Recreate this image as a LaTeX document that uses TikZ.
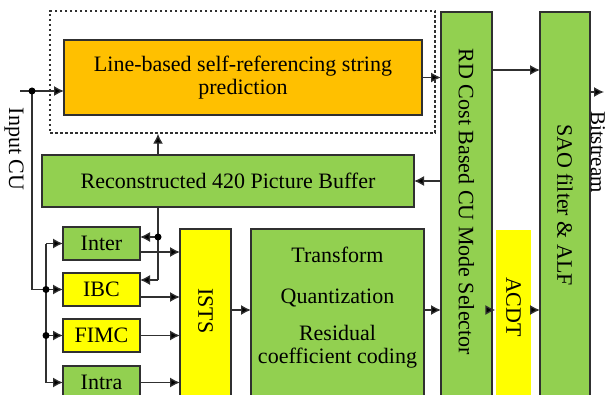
\documentclass[tikz,border=0pt]{standalone}
\usepackage{fontspec}
\setmainfont{Liberation Serif}
\usetikzlibrary{calc, arrows.meta}
\definecolor{blockGreen}{RGB}{146,208,80}
\definecolor{blockOrange}{RGB}{255,192,0}
\definecolor{blockYellow}{RGB}{255,255,0}
\definecolor{lineGrey}{RGB}{48,48,48}

\begin{document}
\begin{tikzpicture}[
  x=1pt, y=-1pt,
  font=\fontsize{22}{23}\selectfont,
  line width=1.3pt,
  blockbox/.style 2 args={draw=lineGrey, inner sep=0pt, outer sep=0pt,
    minimum width=#1pt, minimum height=#2pt},
  vlabel/.style={rotate=-90, inner sep=0pt},
  link/.style={-{Latex[length=10pt,width=10pt,fill=black]}, draw=lineGrey},
  wire/.style={draw=lineGrey},
  joint/.style={circle, fill=black, inner sep=0pt, minimum size=7pt},
]
\useasboundingbox (0,0) rectangle (609,395);
\clip (0,0) rectangle (609,395);

% --- String prediction and its dotted group ----------------------------
\node[blockbox={358}{75}, fill=blockOrange, align=center] (lsrp) at (243,77.5)
  {Line-based self-referencing string\\prediction};
\node[draw=lineGrey, line width=1.5pt, dash pattern=on 2.5pt off 2.5pt, inner sep=0pt,
  minimum width=385pt, minimum height=122pt] (group) at (242.5,72) {};

\node[blockbox={372}{52}, fill=blockGreen] (recon) at (228,181)
  {Reconstructed 420 Picture Buffer};

% --- Right-hand columns (run off the bottom) ----------------------------
\node[blockbox={51}{408}, fill=blockGreen] (rdsel) at (466.5,216) {};
\node[vlabel] (rdtext) at (466.5,202) {RD Cost Based CU Mode Selector};

\node[fill=blockYellow, inner sep=0pt, minimum width=35pt, minimum height=190pt] (acdt) at (513.5,325) {};
\node[vlabel] (acdttext) at (513.5,307) {ACDT};

\node[blockbox={50}{408}, fill=blockGreen] (sao) at (565,216) {};
\node[vlabel] (saotext) at (565,205) {SAO filter \& ALF};

% --- Prediction modes ----------------------------------------------------
\foreach \name/\txt/\y/\col in {inter/Inter/243.5/blockGreen, ibc/IBC/289.5/blockYellow,
                               fimc/FIMC/335.5/blockYellow, intra/Intra/382.5/blockGreen}
  \node[blockbox={77}{33}, fill=\col] (\name) at (101.5,\y) {\txt};

\node[blockbox={51}{191}, fill=blockYellow] (ists) at (205.5,324.5) {};
\node[vlabel] (iststext) at (205.5,311) {ISTS};

\node[blockbox={173}{191}, fill=blockGreen] (tq) at (337.5,324.5) {};
\node[align=center] (tqtext) at (337.5,308)
  {Transform\\[18pt]Quantization\\[14pt]Residual\\coefficient coding};

% --- Side labels ---------------------------------------------------------
\node[vlabel] (inputcu) at (14,149) {Input CU};
\node[vlabel, font=\fontsize{21}{22}\selectfont] (bitstream) at (598,152) {Bitstream};

% --- Input CU fan-out ----------------------------------------------------
\coordinate (cuin) at (20,91);
\coordinate (cusplit) at (32,91);
\coordinate (fan) at (46,0);
\draw[link] (cuin) -- (cuin -| lsrp.west);
\draw[wire] (cusplit) -- (cusplit |- ibc) -- (fan |- ibc);
\draw[wire] (fan |- inter) -- (fan |- intra);
\foreach \b in {inter, ibc, fimc, intra}
  \draw[link] (fan |- \b) -- (\b.west);
\node[joint] (dotcu) at (cusplit) {};
\node[joint] (dotibc) at (fan |- ibc) {};
\node[joint] (dotfimc) at (fan |- fimc) {};

% --- Reference picture feedback -----------------------------------------
\coordinate (fbtop) at (158,0);
\coordinate (fbinter) at (158,237);
\coordinate (fbibc) at (158,280);
\draw[link] (fbtop |- recon.north) -- (fbtop |- group.south);
\draw[wire] (fbtop |- recon.south) -- (fbibc);
\draw[link] (fbinter) -- (fbinter -| inter.east);
\draw[link] (fbibc) -- (fbibc -| ibc.east);
\node[joint] (dotfb) at (fbinter) {};

% --- Main data path -----------------------------------------------------
\foreach \b/\y in {inter/252, ibc/297, fimc/335.5, intra/382.5}
  \draw[link] (\b.east |- 0,\y) -- (ists.west |- 0,\y);
\draw[link] (ists.east |- 0,310) -- (tq.west |- 0,310);
\draw[link] (tq.east |- 0,310) -- (rdsel.west |- 0,310);
\draw[link] (rdsel.east |- 0,310) -- (acdt.west |- 0,310);
\draw[link] (acdt.east |- 0,310) -- (sao.west |- 0,310);
\draw[link] (lsrp.east) -- (lsrp.east -| rdsel.west);
\draw[link] (rdsel.east |- 0,70) -- (sao.west |- 0,70);
\draw[link] (rdsel.west |- recon.east) -- (recon.east);
\coordinate (bsout) at (604,92);
\draw[link] (sao.east |- bsout) -- (bsout);
\end{tikzpicture}
\end{document}
